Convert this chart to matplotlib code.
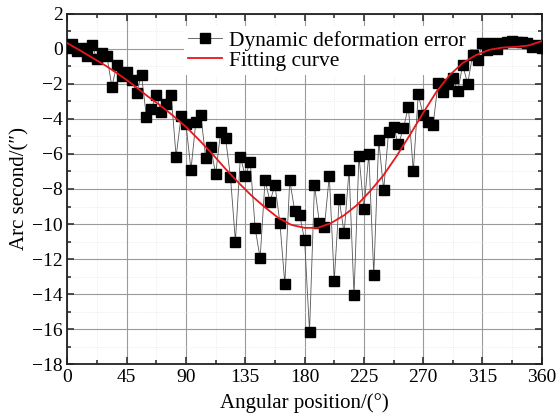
import matplotlib
matplotlib.use("Agg")
import matplotlib.pyplot as plt
from matplotlib.ticker import MultipleLocator

plt.rcParams['font.family'] = ['Liberation Serif', 'DejaVu Serif']
plt.rcParams['mathtext.fontset'] = 'stix'

# Measured data (angle in degrees, error in arc seconds)
angles = [0, 3.75, 7.5, 11.25, 15, 18.75, 22.5, 26.25, 30, 33.75, 37.5, 41.25,
          45, 48.75, 52.5, 56.25, 60, 63.75, 67.5, 71.25, 75, 78.75, 82.5, 86.25,
          90, 93.75, 97.5, 101.25, 105, 108.75, 112.5, 116.25, 120, 123.75, 127.5,
          131.25, 135, 138.75, 142.5, 146.25, 150, 153.75, 157.5, 161.25, 165,
          168.75, 172.5, 176.25, 180, 183.75, 187.5, 191.25, 195, 198.75, 202.5,
          206.25, 210, 213.75, 217.5, 221.25, 225, 228.75, 232.5, 236.25, 240,
          243.75, 247.5, 251.25, 255, 258.75, 262.5, 266.25, 270, 273.75, 277.5,
          281.25, 285, 288.75, 292.5, 296.25, 300, 303.75, 307.5, 311.25, 315,
          318.75, 322.5, 326.25, 330, 333.75, 337.5, 341.25, 345, 348.75, 352.5,
          356.25, 360]
errors = [0.05, 0.3, -0.1, 0.04, -0.42, 0.2, -0.58, -0.21, -0.42, -2.15, -0.91, -1.53,
          -1.32, -1.77, -2.5, -1.5, -3.9, -3.42, -2.62, -3.62, -3.15, -2.62, -6.15, -3.85,
          -4.3, -6.91, -4.15, -3.77, -6.25, -5.58, -7.16, -4.76, -5.1, -7.3, -11.0,
          -6.15, -7.26, -6.44, -10.25, -11.96, -7.49, -8.72, -7.77, -9.92, -13.43,
          -7.49, -9.26, -9.49, -10.91, -16.15, -7.77, -9.96, -10.19, -7.24, -13.24,
          -8.57, -10.53, -6.91, -14.06, -6.11, -9.14, -6.0, -12.91, -5.2, -8.06,
          -4.72, -4.48, -5.43, -4.53, -3.3, -6.97, -2.59, -3.77, -4.15, -4.34,
          -1.96, -2.48, -2.0, -1.64, -2.4, -0.91, -2.0, -0.34, -0.63, 0.32,
          -0.06, 0.32, 0.0, 0.32, 0.42, 0.47, 0.42, 0.42, 0.36, 0.13,
          0.23, 0.04]

# Fitting curve
fit_angles = [0, 10, 20, 30, 40, 50, 60, 70, 80, 90, 100, 110, 120, 130, 140, 150,
              160, 170, 180, 190, 200, 210, 220, 230, 240, 250, 260, 270, 280, 290,
              300, 310, 320, 330, 340, 350, 360]
fit_values = [0.33, -0.1, -0.55, -1.0, -1.5, -2.05, -2.65, -3.2, -3.8, -4.45, -5.2,
              -6.0, -6.85, -7.65, -8.4, -9.05, -9.65, -10.05, -10.22, -10.22, -9.95,
              -9.5, -8.9, -8.1, -7.2, -6.1, -4.9, -3.65, -2.45, -1.5, -0.8, -0.35,
              -0.05, 0.08, 0.12, 0.2, 0.45]

xticks = [0, 45, 90, 135, 180, 225, 270, 315, 360]
yticks = list(range(-18, 3, 2))

fig = plt.figure(figsize=(5.57, 4.2), dpi=100)
ax = fig.add_axes([0.121, 0.1333, 0.8517, 0.8334])

ax.plot(angles, errors, color='#555555', lw=0.6, marker='s', markersize=6.8,
        markerfacecolor='black', markeredgecolor='black',
        label='Dynamic deformation error', zorder=3)
ax.plot(fit_angles, fit_values, color='#e8161b', lw=1.3, label='Fitting curve', zorder=4)

ax.set_xlim(0, 360)
ax.set_ylim(-18, 2)
ax.set_xticks(xticks)
ax.set_yticks(yticks)
ax.xaxis.set_minor_locator(MultipleLocator(22.5))
ax.yaxis.set_minor_locator(MultipleLocator(1))

ax.grid(True, which='major', color='#9a9a9a', lw=0.8)
ax.grid(True, which='minor', color='#dcdcdc', lw=0.5, linestyle=(0, (1, 2)))
ax.set_axisbelow(True)

ax.tick_params(which='both', direction='in', top=True, right=True, labelsize=14,
               width=1.2, color='#333333')
ax.tick_params(which='major', length=5)
ax.tick_params(which='minor', length=3)
for s in ax.spines.values():
    s.set_linewidth(1.3)
    s.set_color('#222222')

ax.set_xlabel('Angular position/(°)', fontsize=15, labelpad=5)
ax.set_ylabel('Arc second/(″)', fontsize=15, labelpad=2)

leg = ax.legend(loc='upper left', bbox_to_anchor=(0.245, 0.965), frameon=True,
                fontsize=15.5, handlelength=1.6, handletextpad=0.3, labelspacing=0.0,
                borderpad=0.2, fancybox=False, borderaxespad=0.0)
leg.get_frame().set_edgecolor('none')
leg.get_frame().set_facecolor('white')
leg.get_frame().set_alpha(1.0)
leg.set_zorder(2.5)

fig.savefig('out.png', dpi=100)
